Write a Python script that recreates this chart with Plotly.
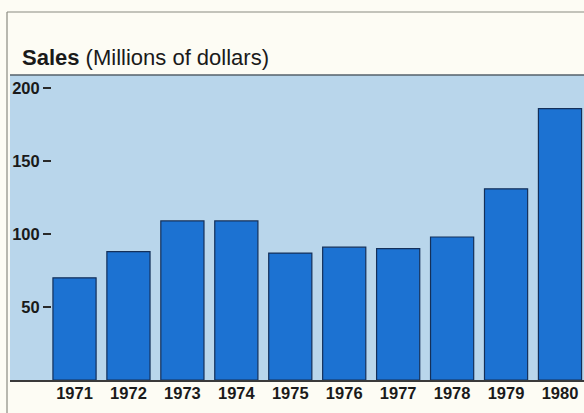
import plotly.graph_objects as go

years = ["1971", "1972", "1973", "1974", "1975", "1976", "1977", "1978", "1979", "1980"]
sales = [70, 88, 109, 109, 87, 91, 90, 98, 131, 186]
y_ticks = [50, 100, 150, 200]
y_ticktext = ["50", "100", "150", "200"]

W, H = 584, 413
L, R, T, B = 10, 0, 75, 33
pw = W - L - R
ph = H - T - B

def px_x(x):
    return (x - L) / pw

def px_y(y):
    return (H - B - y) / ph

fig = go.Figure()
fig.add_trace(go.Bar(
    x=years, y=sales, width=0.8,
    marker=dict(color="#1c72d2", line=dict(color="#14305a", width=1.2)),
))

fig.update_layout(
    width=W, height=H,
    margin=dict(l=L, r=R, t=T, b=B),
    paper_bgcolor="#fdfcf4",
    plot_bgcolor="#b9d6eb",
    showlegend=False,
    font=dict(family="Liberation Sans, Arial, sans-serif", color="#1a1a1a"),
    xaxis=dict(
        type="category", range=[-1.196, 9.445],
        showgrid=False, zeroline=False,
        showline=True, linecolor="#3a3a3a", linewidth=1.5,
        ticks="", tickfont=dict(size=16.5),
        ticklabelstandoff=-3,
    ),
    yaxis=dict(
        range=[0, 209], anchor="free", position=px_x(51),
        showgrid=False, zeroline=False, showline=False,
        tickvals=y_ticks, ticktext=["<b>%s</b>" % t for t in y_ticktext],
        ticks="outside", ticklen=8, tickwidth=1.5, tickcolor="#2a2a2a",
        tickfont=dict(size=16.5),
    ),
)
fig.update_xaxes(ticktext=["<b>%s</b>" % y for y in years], tickvals=years)

# frame lines
fig.add_shape(type="line", xref="paper", yref="paper",
              x0=px_x(7), x1=px_x(7), y0=px_y(12), y1=px_y(H),
              line=dict(color="#8a8a80", width=1.2))
fig.add_shape(type="line", xref="paper", yref="paper",
              x0=px_x(7), x1=1.01, y0=px_y(12), y1=px_y(12),
              line=dict(color="#8a8a80", width=1.2))
fig.add_shape(type="line", xref="paper", yref="paper",
              x0=0, x1=1, y0=1, y1=1,
              line=dict(color="#55606a", width=1.5))

fig.add_annotation(
    xref="paper", yref="paper", x=px_x(20), y=px_y(57),
    xanchor="left", yanchor="middle", showarrow=False,
    text="<b>Sales</b> (Millions of dollars)",
    font=dict(size=22, color="#1a1a1a"),
)

fig.write_html("out.html")
